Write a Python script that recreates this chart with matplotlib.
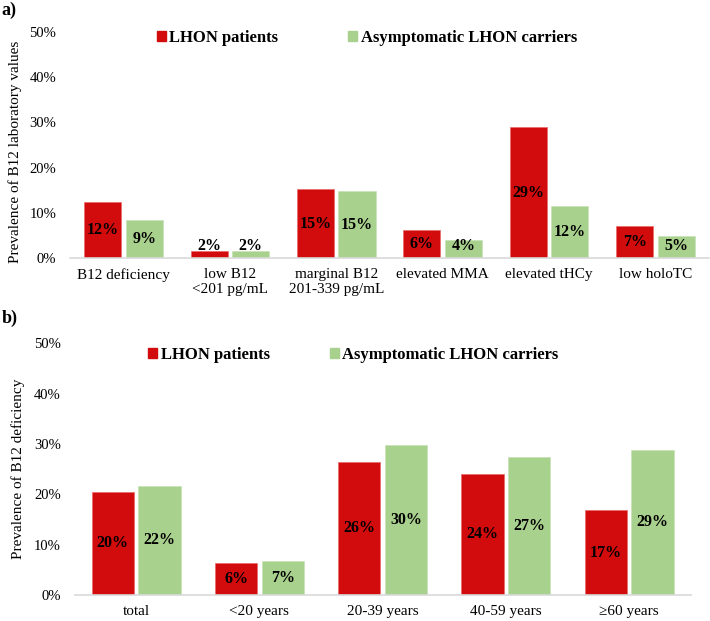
import matplotlib.pyplot as plt
import matplotlib.ticker as mticker
from matplotlib.patches import Patch
import numpy as np

plt.rcParams['font.family'] = ['Liberation Serif', 'DejaVu Serif']

# data
cats_a = ["B12 deficiency", "low B12\n<201 pg/mL", "marginal B12\n201-339 pg/mL",
          "elevated MMA", "elevated tHCy", "low holoTC"]
patients_a = [12.4, 1.7, 15.2, 6.3, 29.0, 7.1]
carriers_a = [8.5, 1.7, 14.8, 4.1, 11.5, 5.0]
labels_pat_a = ["12%", "2%", "15%", "6%", "29%", "7%"]
labels_car_a = ["9%", "2%", "15%", "4%", "12%", "5%"]

cats_b = ["total", "<20 years", "20-39 years", "40-59 years", "\u226560 years"]
patients_b = [20.5, 6.3, 26.5, 24.1, 16.8]
carriers_b = [21.7, 6.8, 29.8, 27.4, 28.8]
labels_pat_b = ["20%", "6%", "26%", "24%", "17%"]
labels_car_b = ["22%", "7%", "30%", "27%", "29%"]

RED = "#D20C0C"
GREEN = "#A9D18E"

fig = plt.figure(figsize=(7.1, 6.21), dpi=100)
ax_a = fig.add_axes([0.099, 0.584, 0.899, 0.365])
ax_b = fig.add_axes([0.105, 0.042, 0.868, 0.405])


def draw(ax, cats, pat, car, lp, lc, ylabel, width, gap, colspace, anchor):
    x = np.arange(len(cats))
    off = width / 2 + gap / 2
    ax.bar(x - off, pat, width, color=RED, edgecolor="#E86A6A", linewidth=0.5)
    ax.bar(x + off, car, width, color=GREEN, edgecolor="#C8E2B6", linewidth=0.5)
    for xi, v, t in zip(x - off, pat, lp):
        ax.text(xi, max(v / 2, 2.8), t, ha='center', va='center',
                fontsize=11.5, fontweight='bold')
    for xi, v, t in zip(x + off, car, lc):
        ax.text(xi, max(v / 2, 2.8), t, ha='center', va='center',
                fontsize=11.5, fontweight='bold')
    ax.set_xlim(-0.5, len(cats) - 0.5)
    ax.set_ylim(0, 50)
    ax.set_yticks([0, 10, 20, 30, 40, 50])
    ax.yaxis.set_major_formatter(mticker.FuncFormatter(lambda v, p: f"{v:.0f}%"))
    ax.set_xticks(x)
    ax.set_xticklabels(cats)
    ax.tick_params(axis='y', length=0, labelsize=10.5, pad=10)
    ax.tick_params(axis='x', length=0, labelsize=11, pad=7)
    for s in ['top', 'right', 'left']:
        ax.spines[s].set_visible(False)
    ax.spines['bottom'].set_color('#D9D9D9')
    ax.spines['bottom'].set_linewidth(1.2)
    ax.set_ylabel(ylabel, fontsize=11)
    handles = [Patch(color=RED, label="LHON patients"),
               Patch(color=GREEN, label="Asymptomatic LHON carriers")]
    ax.legend(handles=handles, loc='upper left', bbox_to_anchor=anchor,
              ncol=2, frameon=False, handlelength=0.55, handleheight=0.55,
              handletextpad=0.2, columnspacing=colspace,
              prop={'weight': 'bold', 'size': 12})


draw(ax_a, cats_a, patients_a, carriers_a, labels_pat_a, labels_car_a,
     "Prevalence of B12 laboratory values", 0.35, 0.04, 4.2, (0.112, 1.075))
draw(ax_b, cats_b, patients_b, carriers_b, labels_pat_b, labels_car_b,
     "Prevalence of B12 deficiency", 0.343, 0.036, 3.6, (0.095, 1.045))

ax_a.yaxis.set_label_coords(-0.075, 0.47)
ax_b.yaxis.set_label_coords(-0.081, 0.5)

fig.text(0.002, 0.997, "a)", fontsize=13, fontweight='bold', va='top', ha='left')
fig.text(0.002, 0.502, "b)", fontsize=13, fontweight='bold', va='top', ha='left')

fig.savefig("out.png", dpi=100)
